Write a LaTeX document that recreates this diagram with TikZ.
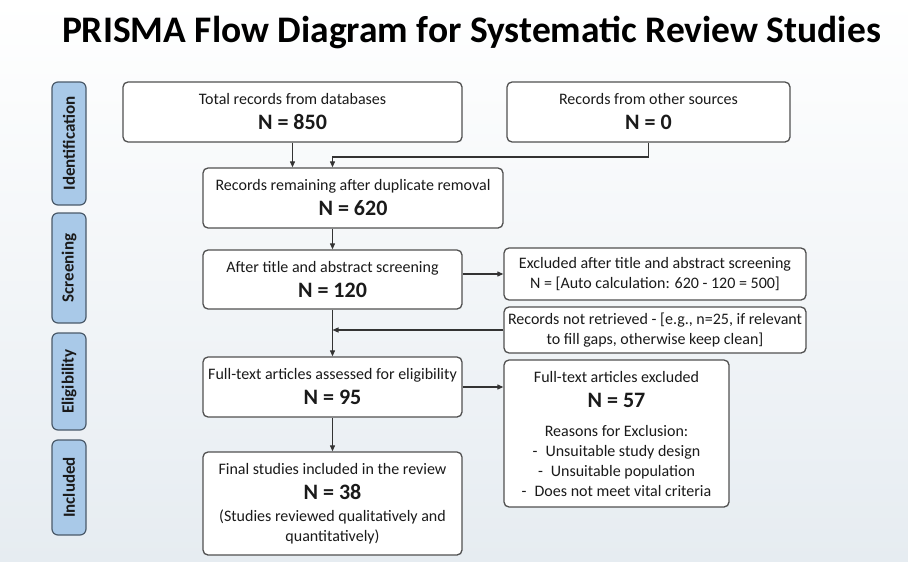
\documentclass[tikz,border=0pt]{standalone}
\usepackage{fontspec}
\setmainfont{Carlito}
\usetikzlibrary{arrows.meta}
\definecolor{boxline}{HTML}{505050}
\definecolor{lblfill}{HTML}{A9C9E8}
\definecolor{lblline}{HTML}{4A5A6A}
\definecolor{txt}{HTML}{1A1A1A}
\definecolor{bgbot}{HTML}{E6ECF1}
\tikzset{
  flowbox/.style={draw=boxline, line width=1.3pt, rounded corners=5pt, fill=white, align=center, inner sep=0pt, text=txt, font=\fontsize{16}{20}\selectfont},
  phase/.style={draw=lblline, line width=1.2pt, rounded corners=6pt, fill=lblfill, inner sep=0pt, text=txt, font=\fontsize{17}{17}\selectfont\bfseries},
  conn/.style={draw=black!80, line width=1.1pt},
  arr/.style={conn, -{Triangle[length=6pt,width=5pt]}},
}
\newcommand\bigN[1]{{\fontsize{22}{22}\selectfont\bfseries #1}}
\begin{document}
\begin{tikzpicture}[x=1pt,y=-1pt]
\shade[top color=white, bottom color=bgbot] (0,0) rectangle (908,562);
\useasboundingbox (0,0) rectangle (908,562);
\node[font=\fontsize{37.5}{37.5}\selectfont\bfseries, anchor=base, text=black] (title) at (471.5,42) {PRISMA Flow Diagram for Systematic Review Studies};

\node[phase, minimum width=123pt, minimum height=34pt, rotate=90] (idf) at (69,143.5) {Identification};
\node[phase, minimum width=110pt, minimum height=34pt, rotate=90] (scr) at (69,268) {Screening};
\node[phase, minimum width=97pt, minimum height=34pt, rotate=90] (elg) at (69,381.5) {Eligibility};
\node[phase, minimum width=95pt, minimum height=34pt, rotate=90] (inc) at (69,487.5) {Included};

\node[flowbox, minimum width=339pt, minimum height=60pt] (total) at (292.5,112) {Total records from databases\\[5pt]\bigN{N = 850}};
\node[flowbox, minimum width=283pt, minimum height=60pt] (other) at (648.5,112) {Records from other sources\\[5pt]\bigN{N = 0}};
\node[flowbox, minimum width=300pt, minimum height=60pt] (remain) at (353,198) {Records remaining after duplicate removal\\[5pt]\bigN{N = 620}};
\node[flowbox, minimum width=259pt, minimum height=59pt] (after) at (332.5,279.5) {After title and abstract screening\\[5pt]\bigN{N = 120}};
\node[flowbox, minimum width=302pt, minimum height=52pt] (excl) at (655,274) {Excluded after title and abstract screening\\N = [Auto calculation: 620 - 120 = 500]};
\node[flowbox, minimum width=302pt, minimum height=46pt] (notret) at (655,330) {Records not retrieved - [e.g., n=25, if relevant\\to fill gaps, otherwise keep clean]};
\node[flowbox, minimum width=259pt, minimum height=60pt] (fulltext) at (332.5,387) {Full-text articles assessed for eligibility\\[5pt]\bigN{N = 95}};
\node[flowbox, minimum width=225pt, minimum height=147pt] (ftexcl) at (616.5,433.5) {Full-text articles excluded\\[5pt]\bigN{N = 57}\\[9pt]Reasons for Exclusion:\\-\enspace Unsuitable study design\\-\enspace Unsuitable population\\-\enspace Does not meet vital criteria};
\node[flowbox, minimum width=259pt, minimum height=103pt] (final) at (332.5,503.5) {Final studies included in the review\\[5pt]\bigN{N = 38}\\[2pt](Studies reviewed qualitatively and\\quantitatively)};

\coordinate (j1) at (332.5,157);
\draw[arr] (total.south) -- (total.south |- remain.north);
\draw[arr] (other.south) |- (j1) -- (j1 |- remain.north);
\draw[arr] (remain.south -| after.north) -- (after.north);
\draw[arr] (after.east |- excl.west) -- (excl.west);
\draw[arr] (after.south) -- (fulltext.north);
\draw[arr] (notret.west) -- (notret.west -| after.south);
\draw[arr] (fulltext.east) -- (fulltext.east -| ftexcl.west);
\draw[arr] (fulltext.south) -- (final.north);
\end{tikzpicture}
\end{document}
